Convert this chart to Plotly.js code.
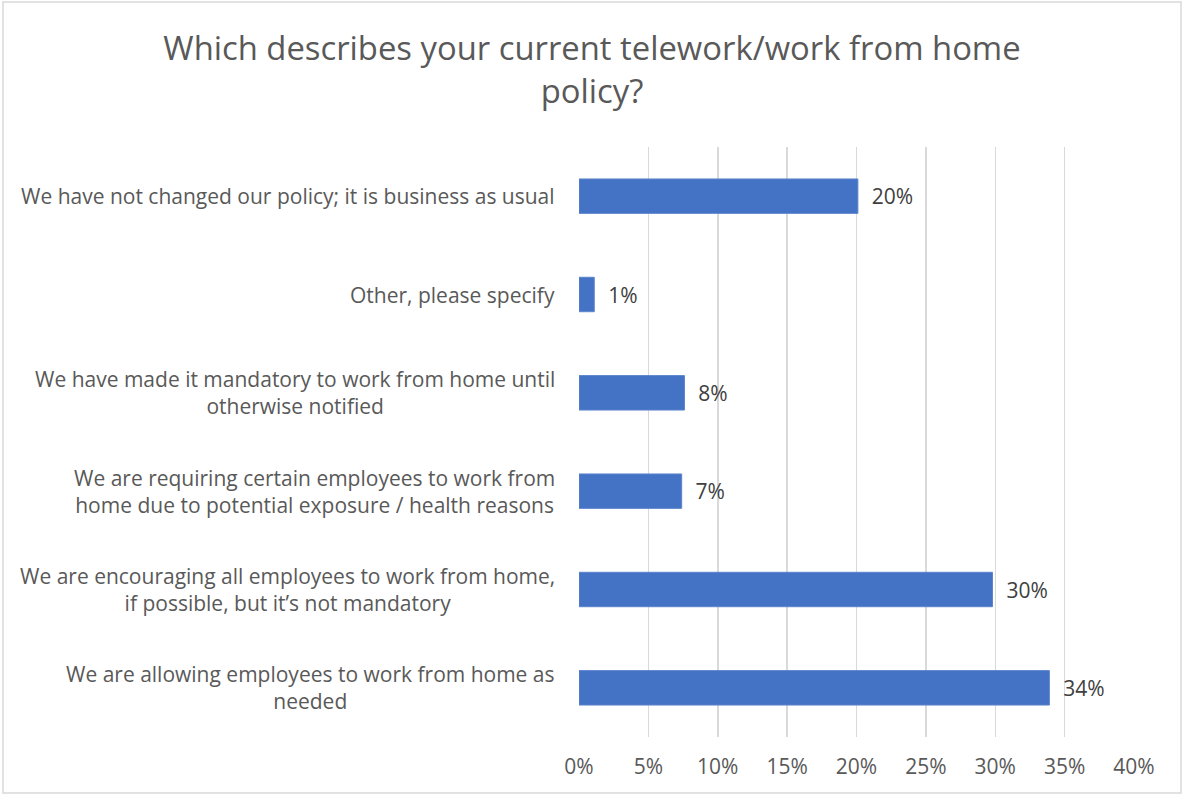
<!DOCTYPE html>
<html>
<head>
<meta charset="utf-8">
<script src="https://cdn.plot.ly/plotly-3.0.1.min.js"></script>
<style>html,body{margin:0;padding:0;background:#fff;}#chart{width:1184px;height:796px;}</style>
</head>
<body>
<div id="chart"></div>
<script>
// bottom to top
const categories = [
  "We are allowing employees to work from home as<br>needed",
  "We are encouraging all employees to work from home,<br>if possible, but it’s not mandatory",
  "We are requiring certain employees to work from<br>home due to potential exposure / health reasons",
  "We have made it mandatory to work from home until<br>otherwise notified",
  "Other, please specify",
  "We have not changed our policy; it is business as usual"
];
const values = [0.339, 0.298, 0.074, 0.076, 0.011, 0.201];
const tickVals = [0, 0.05, 0.10, 0.15, 0.20, 0.25, 0.30, 0.35, 0.40];
const tickLabels = ["0%", "5%", "10%", "15%", "20%", "25%", "30%", "35%", "40%"];
const chartTitle = "Which describes your current telework/work from home<br>policy?";

const FONT = "Open Sans, Calibri, Carlito, sans-serif";
const GREY = "#595959";

const trace = {
  type: "bar",
  orientation: "h",
  y: categories,
  x: values,
  marker: {color: "#4472C4", line: {color: "#5b84cc", width: 1}},
  texttemplate: "  %{x:.0%}",
  textposition: "outside",
  cliponaxis: false,
  textfont: {family: FONT, size: 21, color: "#404040"},
  hoverinfo: "none"
};

const annotations = categories.map(c => ({
  xref: "paper", yref: "y", x: 0, y: c,
  xanchor: "right", yanchor: "middle", xshift: -22,
  text: c, align: "center", showarrow: false,
  font: {family: FONT, size: 21, color: GREY}
}));

const layout = {
  width: 1184, height: 796,
  paper_bgcolor: "#fff", plot_bgcolor: "#fff",
  margin: {l: 579, r: 50, t: 147, b: 59},
  showlegend: false,
  bargap: 0.65,
  title: {
    text: chartTitle,
    font: {family: FONT, size: 32.8, color: GREY},
    x: 0.5, xanchor: "center", xref: "container",
    yref: "container", y: 1 - 60/796, yanchor: "top"
  },
  xaxis: {
    range: [0, 0.40],
    tickvals: tickVals, ticktext: tickLabels,
    showgrid: true, gridcolor: "#d9d9d9", gridwidth: 1.5,
    zeroline: false, showline: false, ticks: "",
    tickfont: {family: FONT, size: 21, color: GREY},
    ticklabelstandoff: 15,
    fixedrange: true
  },
  yaxis: {
    type: "category",
    categoryorder: "array", categoryarray: categories,
    showticklabels: false, showgrid: false, zeroline: false, showline: false, ticks: "",
    fixedrange: true
  },
  annotations: annotations,
  shapes: [{
    type: "rect", xref: "paper", yref: "paper",
    x0: -579/555 + 3/555, x1: 1 + 47/555, y0: -56/590, y1: 1 + 145/590,
    line: {color: "#d9d9d9", width: 1.5}, fillcolor: "rgba(0,0,0,0)", layer: "below"
  }],
  font: {family: FONT}
};

Plotly.newPlot("chart", [trace], layout, {displayModeBar: false, staticPlot: true});
</script>
</body>
</html>
